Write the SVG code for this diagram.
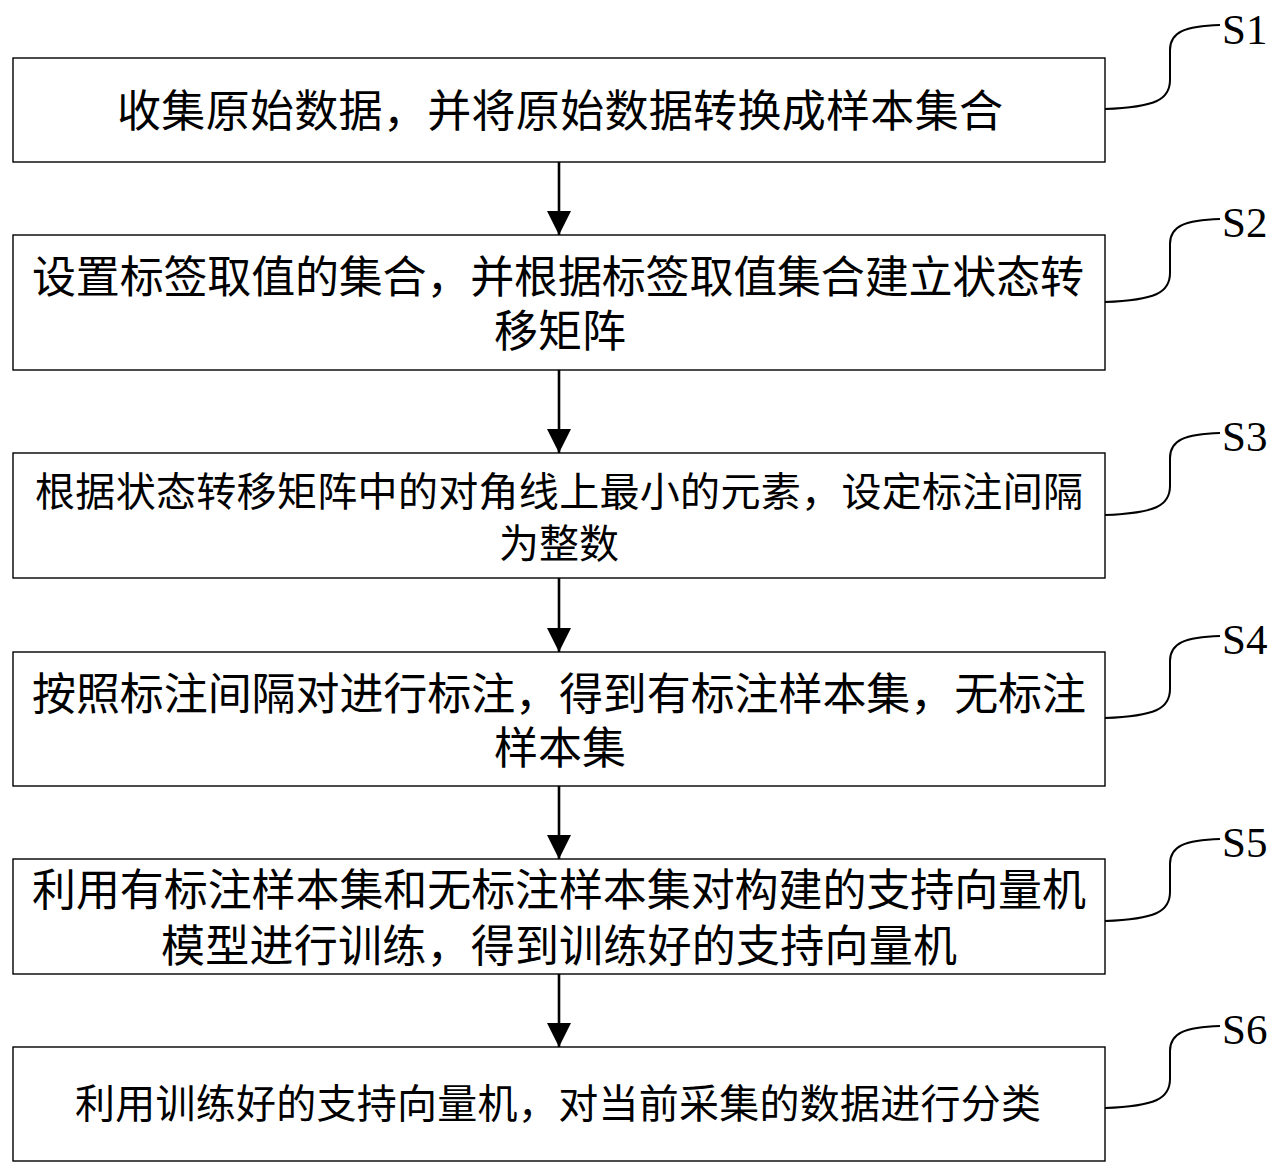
<svg xmlns="http://www.w3.org/2000/svg" width="1285" height="1176" viewBox="0 0 1285 1176">
<style>
.box{fill:#fff;stroke:#000;stroke-width:1.4}
.t{font-family:"Noto Sans CJK SC","Noto Sans CJK JP",sans-serif;font-size:44px;fill:#000;text-anchor:middle;dominant-baseline:central}
.s{font-size:40px}
.lbl{font-family:"Liberation Serif","Times New Roman",serif;font-size:43px;fill:#000}
.lead{fill:none;stroke:#000;stroke-width:2}
.arr{stroke:#000;stroke-width:2.6;fill:none;marker-end:url(#ah)}
</style>
<defs>
<marker id="ah" markerUnits="userSpaceOnUse" markerWidth="24" markerHeight="24" refX="24" refY="12" orient="auto" viewBox="0 0 24 24">
<path d="M0,0 L24,12 L0,24 Z" fill="#000"/>
</marker>
</defs>
<rect width="1285" height="1176" fill="#fff"/>
<g id="S1">
<rect class="box" x="13" y="58" width="1092" height="104"/>
<text class="t" x="560" y="108" textLength="886" lengthAdjust="spacing">收集原始数据，并将原始数据转换成样本集合</text>
<path class="lead" d="M1105,109 C1155,107 1170,100 1170,80 L1170,50 C1170,32 1185,26 1220,25"/>
<text class="lbl" x="1222" y="44">S1</text>
</g>
<g id="S2">
<rect class="box" x="13" y="235" width="1092" height="135"/>
<text class="t" x="558" y="274" textLength="1052" lengthAdjust="spacing">设置标签取值的集合，并根据标签取值集合建立状态转</text>
<text class="t" x="560" y="328">移矩阵</text>
<path class="lead" d="M1105,302 C1155,300 1170,293 1170,273 L1170,244 C1170,226 1185,220 1220,219"/>
<text class="lbl" x="1222" y="237">S2</text>
</g>
<g id="S3">
<rect class="box" x="13" y="453" width="1092" height="125"/>
<text class="t s" x="559" y="489" textLength="1048" lengthAdjust="spacing">根据状态转移矩阵中的对角线上最小的元素，设定标注间隔</text>
<text class="t s" x="559" y="541">为整数</text>
<path class="lead" d="M1105,515 C1155,513 1170,506 1170,486 L1170,458 C1170,440 1185,434 1220,433"/>
<text class="lbl" x="1222" y="451">S3</text>
</g>
<g id="S4">
<rect class="box" x="13" y="652" width="1092" height="134"/>
<text class="t" x="559" y="691" textLength="1054" lengthAdjust="spacing">按照标注间隔对进行标注，得到有标注样本集，无标注</text>
<text class="t" x="560" y="745">样本集</text>
<path class="lead" d="M1105,718 C1155,716 1170,709 1170,689 L1170,661 C1170,643 1185,637 1220,636"/>
<text class="lbl" x="1222" y="654">S4</text>
</g>
<g id="S5">
<rect class="box" x="13" y="859" width="1092" height="115"/>
<text class="t" x="559" y="887" textLength="1054" lengthAdjust="spacing">利用有标注样本集和无标注样本集对构建的支持向量机</text>
<text class="t" x="559" y="943" textLength="796" lengthAdjust="spacing">模型进行训练，得到训练好的支持向量机</text>
<path class="lead" d="M1105,921 C1155,919 1170,912 1170,892 L1170,864 C1170,846 1185,840 1220,839"/>
<text class="lbl" x="1222" y="857">S5</text>
</g>
<g id="S6">
<rect class="box" x="13" y="1047" width="1092" height="114"/>
<text class="t s" x="558" y="1101" textLength="966" lengthAdjust="spacing">利用训练好的支持向量机，对当前采集的数据进行分类</text>
<path class="lead" d="M1105,1108 C1155,1106 1170,1099 1170,1079 L1170,1051 C1170,1033 1185,1027 1220,1026"/>
<text class="lbl" x="1222" y="1044">S6</text>
</g>
<g id="connectors">
<line class="arr" x1="559" y1="162" x2="559" y2="235"/>
<line class="arr" x1="559" y1="370" x2="559" y2="453"/>
<line class="arr" x1="559" y1="578" x2="559" y2="652"/>
<line class="arr" x1="559" y1="786" x2="559" y2="859"/>
<line class="arr" x1="559" y1="974" x2="559" y2="1047"/>
</g>
</svg>
